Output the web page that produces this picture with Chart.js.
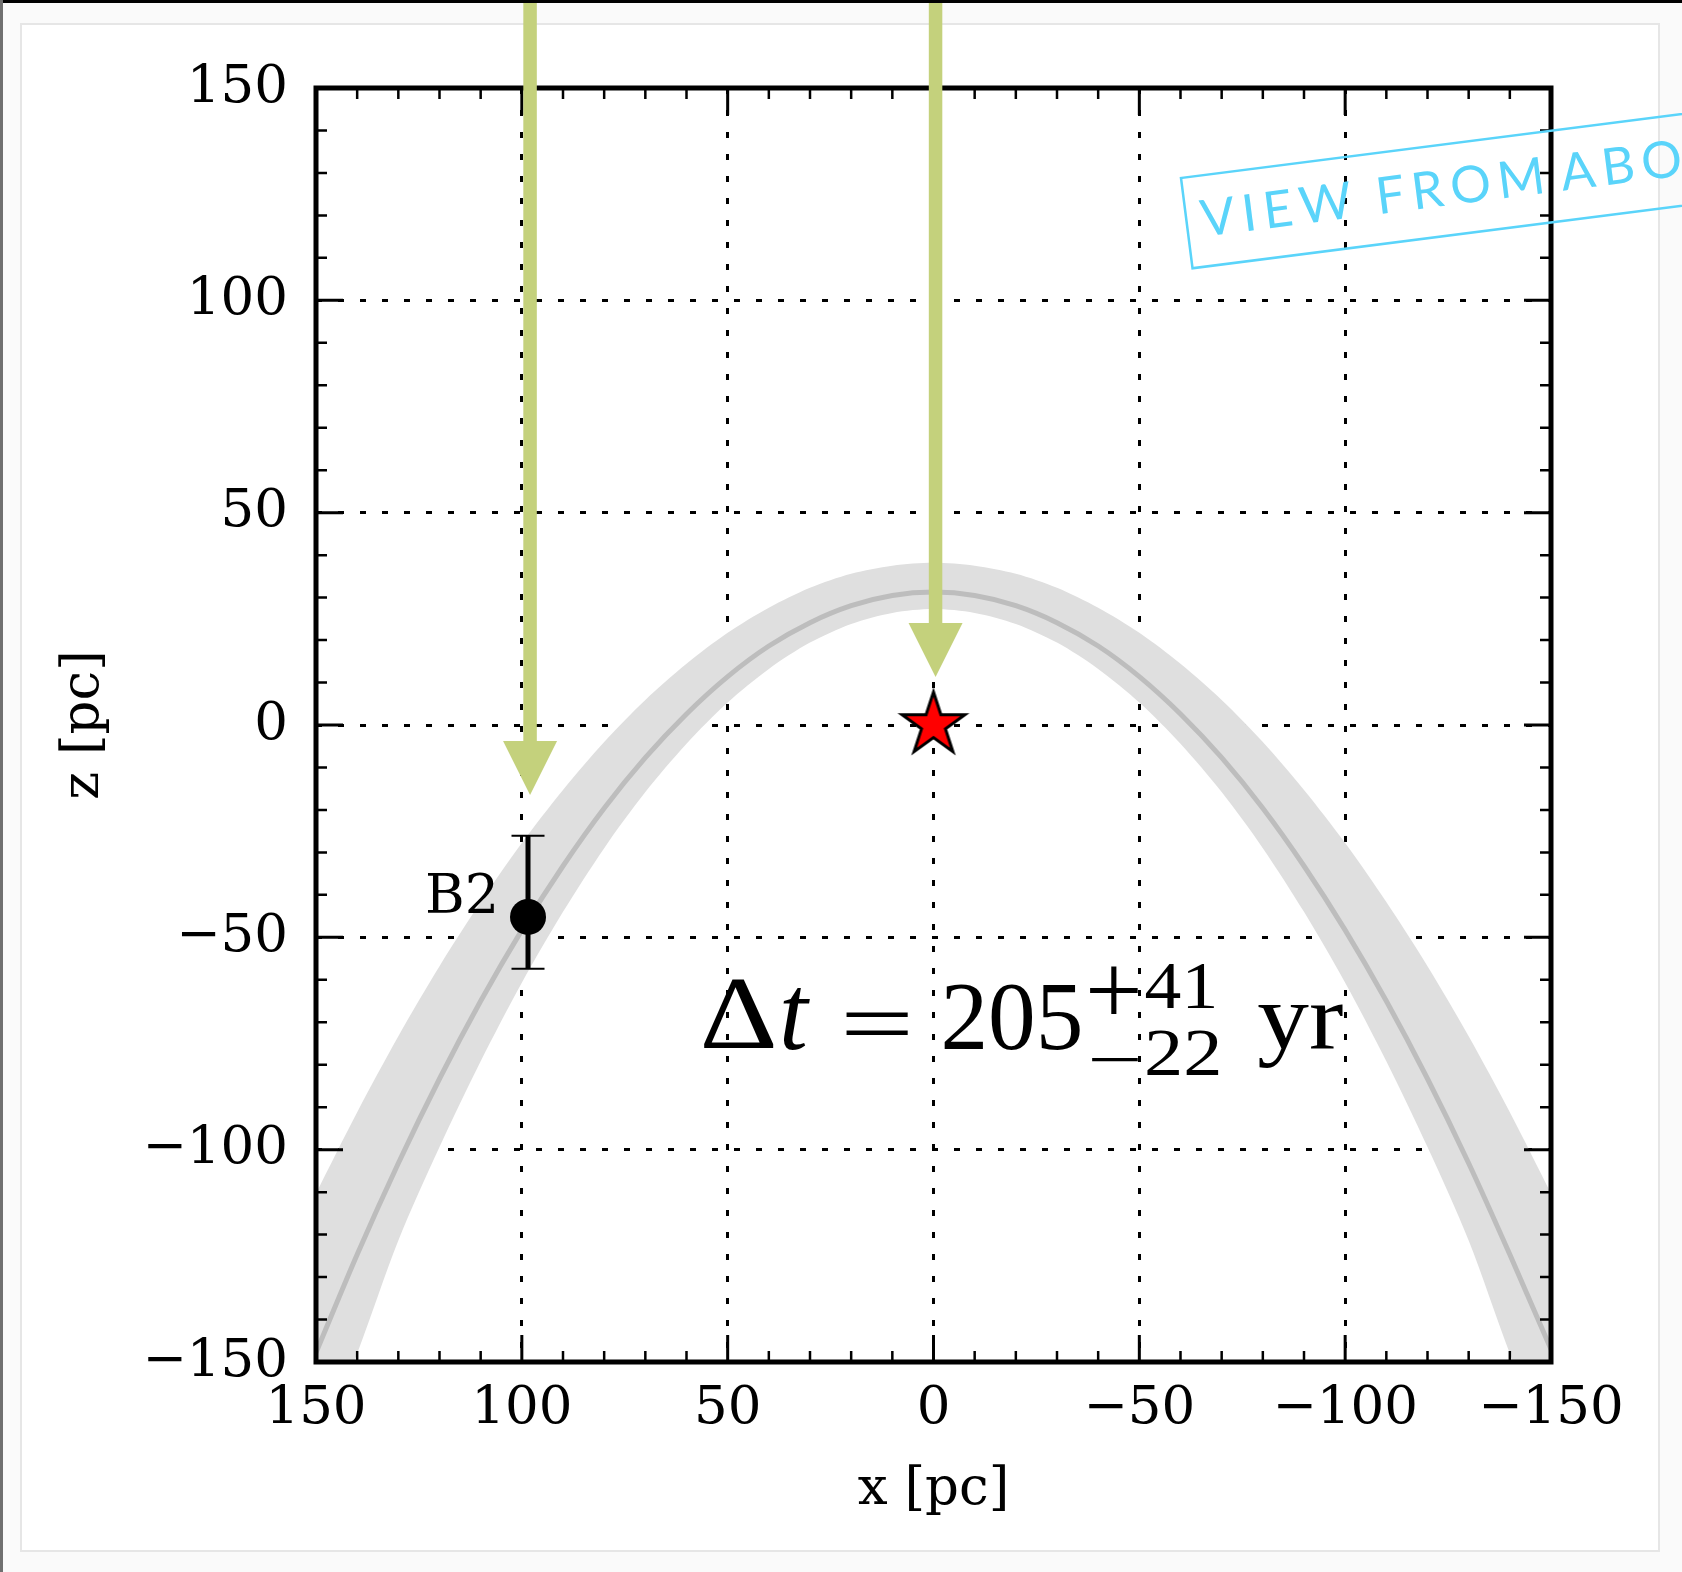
<!DOCTYPE html>
<html lang="en">
<head>
  <meta charset="UTF-8">
  <title>View from above: z vs x</title>
  <script src="https://cdn.jsdelivr.net/npm/chart.js@4"></script>
  <style>
    html, body { margin: 0; padding: 0; background: #fff; }
    canvas { display: block; }
  </style>
</head>
<body>
  <canvas id="orbitChart" width="1682" height="1572"></canvas>
  <script>
    // axis ticks (pc)
    const tickValues = [-150, -100, -50, 0, 50, 100, 150]
    const minorStep = 10

    // trajectory seen from above
    const curveX = [150, 140, 130, 120, 110, 100, 90, 80, 70, 60, 50, 40, 30, 20, 10, 0, -10, -20, -30, -40, -50, -60, -70, -80, -90, -100, -110, -120, -130, -140, -150]
    const curveZ = [-147.8, -124.7, -103.2, -83.3, -65.0, -48.3, -33.2, -19.6, -7.7, 2.6, 11.4, 18.6, 24.1, 28.1, 30.5, 31.3, 30.5, 28.1, 24.1, 18.6, 11.4, 2.6, -7.7, -19.6, -33.2, -48.3, -65.0, -83.3, -103.2, -124.7, -147.0]
    const bandUpperZ = [-110.3, -91.2, -73.3, -56.8, -41.7, -27.8, -15.3, -4.0, 5.9, 14.4, 21.7, 27.6, 32.3, 35.6, 37.5, 38.2, 37.5, 35.6, 32.3, 27.6, 21.7, 14.4, 5.9, -4.0, -15.3, -27.8, -41.7, -56.8, -73.3, -91.2, -110.3]
    const bandLowerZ = [-172, -148, -121.4, -99.4, -79.2, -60.7, -44.0, -29.0, -15.8, -4.4, 5.3, 13.2, 19.4, 23.8, 26.4, 27.3, 26.4, 23.8, 19.4, 13.2, 5.3, -4.4, -15.8, -29.0, -44.0, -60.7, -79.2, -99.4, -121.4, -148, -172]

    // B2 with asymmetric error bar
    const b2X = [98.5]
    const b2Z = [-45.2]
    const b2ErrUp = [19.1]
    const b2ErrDown = [12.2]
    const b2Labels = ['B2']

    // the red star (origin)
    const starX = [0]
    const starZ = [0]

    // green arrows: x position, start (above the axes) and tip
    const arrowX = [98, -0.5]
    const arrowFromZ = [171, 171]
    const arrowTipZ = [-16.5, 11.3]

    // annotation anchor (left end of the text baseline)
    const noteAt = [55.9, -76.0]

    const serif = 'DejaVu Serif'
    const arrowColor = '#c4d17c'
    const stampColor = '#5ad4fa'

    const fmtTick = v => v < 0 ? '\u2212' + Math.abs(v) : String(v)
    const toPoints = (xs, zs) => xs.map((x, i) => ({ x: x, y: zs[i] }))

    function makeStar(R, ratio, lw) {
      const c = document.createElement('canvas')
      const s = Math.ceil(2 * R + 4 * lw + 4)
      c.width = s
      c.height = s
      const g = c.getContext('2d')
      g.translate(s / 2, s / 2)
      g.beginPath()
      for (let i = 0; i < 10; i++) {
        const r = i % 2 ? R * ratio : R
        const a = -Math.PI / 2 + i * Math.PI / 5
        g.lineTo(r * Math.cos(a), r * Math.sin(a))
      }
      g.closePath()
      g.fillStyle = '#ff0000'
      g.fill()
      g.lineWidth = lw
      g.lineJoin = 'miter'
      g.strokeStyle = '#000'
      g.stroke()
      return c
    }
    const starImg = makeStar(33, 0.382, 3)

    // pieces of  Δt = 205 (+41 / −22) yr, fitted to ink boxes (px from anchor)
    const notePieces = [
      { t: '\u0394', x: 0, w: 71, top: -68, bottom: 0 },
      { t: 't', x: 80, w: 27, top: -60, bottom: 2, italic: true },
      { t: '=', x: 142, w: 63, top: -35, bottom: -13 },
      { t: '205', x: 241, w: 136, top: -64, bottom: 2 },
      { t: '+', x: 386, w: 49, top: -81, bottom: -33 },
      { t: '41', x: 442, w: 69, top: -85, bottom: -40 },
      { t: '\u2212', x: 388, w: 47, top: 10, bottom: 14 },
      { t: '22', x: 444, w: 71, top: -18, bottom: 27 },
      { t: 'yr', x: 555, w: 85, top: -43, bottom: 20 }
    ]

    function drawPiece(ctx, p, ox, oy) {
      ctx.save()
      ctx.font = (p.italic ? 'italic ' : '') + '96px "Liberation Serif"'
      ctx.textAlign = 'left'
      ctx.textBaseline = 'alphabetic'
      const m = ctx.measureText(p.t)
      const inkW = m.actualBoundingBoxLeft + m.actualBoundingBoxRight
      const inkH = m.actualBoundingBoxAscent + m.actualBoundingBoxDescent
      const sx = p.w / inkW
      const sy = (p.bottom - p.top) / inkH
      ctx.translate(ox + p.x, oy + p.top)
      ctx.scale(sx, sy)
      ctx.fillStyle = '#000'
      ctx.fillText(p.t, m.actualBoundingBoxLeft, m.actualBoundingBoxAscent)
      ctx.restore()
    }

    const decorations = {
      id: 'decorations',
      beforeDraw(chart) {
        const ctx = chart.ctx
        ctx.save()
        ctx.fillStyle = '#fafafa'
        ctx.fillRect(0, 0, chart.width, chart.height)
        ctx.fillStyle = '#fff'
        ctx.fillRect(21, 24, 1638, 1527)
        ctx.strokeStyle = '#e6e6e6'
        ctx.lineWidth = 2
        ctx.strokeRect(21, 24, 1638, 1527)
        ctx.restore()
      },
      afterDraw(chart) {
        const { ctx, chartArea: a, scales: { x, y } } = chart
        ctx.save()

        // inward ticks on all four sides
        ctx.strokeStyle = '#000'
        for (let v = -150 + minorStep; v < 150; v += minorStep) {
          const major = v % 50 === 0
          const len = major ? 27 : 11
          ctx.lineWidth = major ? 3 : 2.5
          const px = x.getPixelForValue(v)
          const py = y.getPixelForValue(v)
          ctx.beginPath()
          ctx.moveTo(px, a.bottom); ctx.lineTo(px, a.bottom - len)
          ctx.moveTo(px, a.top); ctx.lineTo(px, a.top + len)
          ctx.moveTo(a.left, py); ctx.lineTo(a.left + len, py)
          ctx.moveTo(a.right, py); ctx.lineTo(a.right - len, py)
          ctx.stroke()
        }
        ctx.lineWidth = 5
        ctx.strokeRect(a.left, a.top, a.right - a.left, a.bottom - a.top)

        // B2 error bar and label
        b2X.forEach((bx, i) => {
          const px = x.getPixelForValue(bx)
          const yHi = y.getPixelForValue(b2Z[i] + b2ErrUp[i])
          const yLo = y.getPixelForValue(b2Z[i] - b2ErrDown[i])
          ctx.lineWidth = 5
          ctx.beginPath()
          ctx.moveTo(px, yHi); ctx.lineTo(px, yLo)
          ctx.stroke()
          ctx.lineWidth = 2
          ctx.beginPath()
          ctx.moveTo(px - 16.5, yHi); ctx.lineTo(px + 16.5, yHi)
          ctx.moveTo(px - 16.5, yLo); ctx.lineTo(px + 16.5, yLo)
          ctx.stroke()
          ctx.fillStyle = '#000'
          ctx.font = '54px "' + serif + '"'
          ctx.textAlign = 'right'
          ctx.textBaseline = 'alphabetic'
          ctx.fillText(b2Labels[i], px - 29, y.getPixelForValue(b2Z[i]) - 4)
        })

        // annotation
        const ox = x.getPixelForValue(noteAt[0])
        const oy = y.getPixelForValue(noteAt[1])
        notePieces.forEach(p => drawPiece(ctx, p, ox, oy))

        // green arrows
        ctx.fillStyle = arrowColor
        arrowX.forEach((ax, i) => {
          const px = x.getPixelForValue(ax)
          const y0 = y.getPixelForValue(arrowFromZ[i])
          const tip = y.getPixelForValue(arrowTipZ[i])
          const head = 54
          ctx.fillRect(px - 6.75, y0, 13.5, tip - head - y0 + 1)
          ctx.beginPath()
          ctx.moveTo(px - 27, tip - head)
          ctx.lineTo(px + 27, tip - head)
          ctx.lineTo(px, tip)
          ctx.closePath()
          ctx.fill()
        })

        // page edges
        ctx.fillStyle = '#000'
        ctx.fillRect(0, 0, chart.width, 3)
        ctx.fillStyle = '#707070'
        ctx.fillRect(0, 0, 3, chart.height)

        // stamp
        ctx.translate(1181, 178)
        ctx.rotate(Math.atan2(-64, 501))
        ctx.strokeStyle = stampColor
        ctx.lineWidth = 2.5
        ctx.strokeRect(0, 0, 700, 91)
        ctx.fillStyle = stampColor
        ctx.font = '400 51px Lato'
        ctx.textAlign = 'left'
        ctx.textBaseline = 'alphabetic'
        const words = [['VIEW', 14.5], ['FROM', 191], ['ABOVE', 377]]
        words.forEach(([w, u]) => {
          let cx = u
          for (const ch of w) {
            ctx.fillText(ch, cx, 61)
            cx += ctx.measureText(ch).width + 7
          }
        })
        ctx.restore()
      }
    }

    const axisFont = { family: serif, size: 53 }

    new Chart(document.getElementById('orbitChart'), {
      type: 'scatter',
      data: {
        datasets: [
          {
            label: 'B2',
            data: toPoints(b2X, b2Z),
            pointRadius: 18,
            pointBackgroundColor: '#000',
            pointBorderWidth: 0
          },
          {
            label: 'star',
            data: toPoints(starX, starZ),
            pointStyle: starImg,
            pointRadius: 33
          },
          {
            label: 'trajectory',
            data: toPoints(curveX, curveZ),
            showLine: true,
            borderColor: '#bdbdbd',
            borderWidth: 5,
            pointRadius: 0,
            tension: 0.3
          },
          {
            label: 'band upper',
            data: toPoints(curveX, bandUpperZ),
            showLine: true,
            borderColor: 'transparent',
            borderWidth: 0,
            pointRadius: 0,
            tension: 0.3,
            fill: '+1',
            backgroundColor: '#dfdfdf'
          },
          {
            label: 'band lower',
            data: toPoints(curveX, bandLowerZ),
            showLine: true,
            borderColor: 'transparent',
            borderWidth: 0,
            pointRadius: 0,
            tension: 0.3,
            fill: false
          }
        ]
      },
      options: {
        responsive: false,
        animation: false,
        devicePixelRatio: 1,
        layout: { padding: { left: 0, top: 88, right: 131, bottom: 0 } },
        plugins: {
          legend: { display: false },
          tooltip: { enabled: false }
        },
        scales: {
          x: {
            type: 'linear',
            min: -150,
            max: 150,
            reverse: true,
            z: 1,
            afterFit: s => { s.height = 210 },
            afterBuildTicks: s => { s.ticks = tickValues.map(v => ({ value: v })) },
            ticks: {
              callback: fmtTick,
              font: axisFont,
              color: '#000',
              padding: 15,
              maxRotation: 0,
              autoSkip: false
            },
            grid: { color: '#000', lineWidth: 3, drawTicks: false },
            border: { display: false, dash: [6, 16] },
            title: { display: true, text: 'x [pc]', font: axisFont, color: '#000', padding: { top: 0, bottom: 50 } }
          },
          y: {
            type: 'linear',
            min: -150,
            max: 150,
            z: 1,
            afterFit: s => { s.width = 316 },
            afterBuildTicks: s => { s.ticks = tickValues.map(v => ({ value: v })) },
            ticks: {
              callback: fmtTick,
              font: axisFont,
              color: '#000',
              padding: 28,
              autoSkip: false
            },
            grid: { color: '#000', lineWidth: 3, drawTicks: false },
            border: { display: false, dash: [6, 16] },
            title: { display: true, text: 'z [pc]', font: axisFont, color: '#000', padding: { top: 52, bottom: 0 } }
          }
        }
      },
      plugins: [decorations]
    })
  </script>
</body>
</html>
